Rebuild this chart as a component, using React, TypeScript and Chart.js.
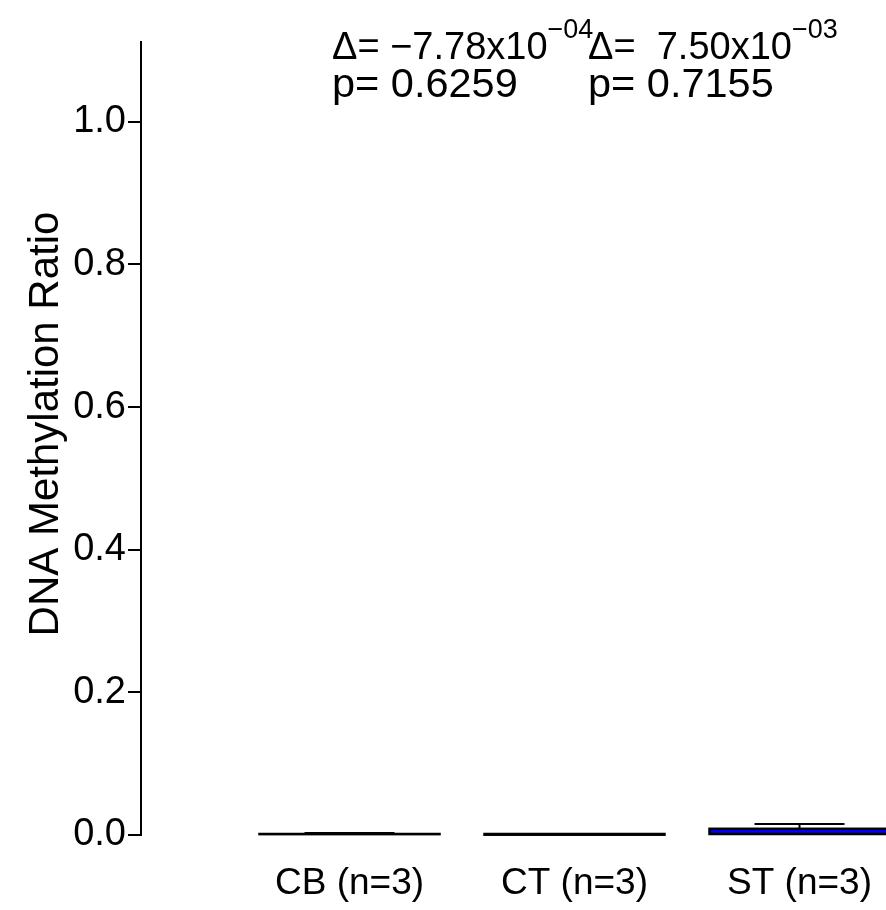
import React, { useEffect, useRef } from "react";
import { Chart, registerables } from "chart.js";

Chart.register(...registerables);

// ---- data ----
const categories = ["CB (n=3)", "CT (n=3)", "ST (n=3)"];
const positions = [1, 2, 3];
const means = [0.0012, 0.0004, 0.0087];
const errors = [0.0016, 0.0008, 0.0068];
const barColors = ["#ffffff", "#ffffff", "#0000ff"];
const yTicks = [0, 0.2, 0.4, 0.6, 0.8, 1.0];
const deltaMantissa = ["\u22127.78", " 7.50"];
const deltaExponent = ["\u221204", "\u221203"];
const pValues = ["0.6259", "0.7155"];
const yTitle = "DNA Methylation Ratio";

const FONT = "'Liberation Sans', Arial, Helvetica, sans-serif";

const overlayPlugin = {
  id: "overlay",
  afterDatasetsDraw(chart: any) {
    const ctx = chart.ctx;
    const xs = chart.scales.x;
    const ys = chart.scales.y;
    const meta = chart.getDatasetMeta(0);
    ctx.save();
    ctx.strokeStyle = "#000";
    ctx.lineWidth = 2.5;
    meta.data.forEach((bar: any) => {
      const { x, y, base, width } = bar.getProps(["x", "y", "base", "width"], true);
      ctx.strokeRect(x - width / 2, y, width, base - y);
    });
    ctx.lineWidth = 2;
    positions.forEach((p, i) => {
      const cx = xs.getPixelForValue(p);
      const y0 = ys.getPixelForValue(means[i]);
      const y1 = ys.getPixelForValue(means[i] + errors[i]);
      const hw = xs.getPixelForValue(p + 0.2) - cx;
      ctx.beginPath();
      ctx.moveTo(cx, y0);
      ctx.lineTo(cx, y1);
      ctx.moveTo(cx - hw, y1);
      ctx.lineTo(cx + hw, y1);
      ctx.stroke();
    });
    ctx.restore();
  },
  afterDraw(chart: any) {
    const ctx = chart.ctx;
    const area = chart.chartArea;
    ctx.save();
    ctx.fillStyle = "#000";
    // y axis title
    ctx.save();
    ctx.translate(58, 424);
    ctx.rotate(-Math.PI / 2);
    ctx.font = `42px ${FONT}`;
    ctx.textAlign = "center";
    ctx.textBaseline = "alphabetic";
    ctx.fillText(yTitle, 0, 0);
    ctx.restore();
    // annotations
    const starts = [area.left + 191, area.left + 447];
    ctx.textAlign = "left";
    ctx.textBaseline = "alphabetic";
    starts.forEach((sx, i) => {
      ctx.font = `38px ${FONT}`;
      const main = "\u0394= " + deltaMantissa[i] + "x10";
      ctx.fillText(main, sx, 59);
      const w = ctx.measureText(main).width;
      ctx.font = `27px ${FONT}`;
      ctx.fillText(deltaExponent[i], sx + w, 38);
      ctx.font = `41.5px ${FONT}`;
      ctx.fillText("p= " + pValues[i], sx, 97);
    });
    ctx.restore();
  },
};

export default function App() {
  const canvasRef = useRef<HTMLCanvasElement | null>(null);

  useEffect(() => {
    const canvas = canvasRef.current;
    if (!canvas) return;
    const chart = new Chart(canvas, {
      type: "bar",
      data: {
        datasets: [
          {
            data: positions.map((p, i) => ({ x: p, y: means[i] })),
            backgroundColor: barColors,
            borderWidth: 0,
            barPercentage: 0.8,
            categoryPercentage: 1,
          },
        ],
      },
      plugins: [overlayPlugin],
      options: {
        responsive: false,
        animation: false,
        devicePixelRatio: 1,
        layout: { autoPadding: false, padding: { top: 42, left: 0, right: 0, bottom: 0 } },
        plugins: {
          legend: { display: false },
          tooltip: { enabled: false },
          title: { display: false },
        },
        scales: {
          x: {
            type: "linear",
            min: 0.0733,
            max: 3.3844,
            bounds: "data",
            offset: false,
            grid: { display: false, drawTicks: false },
            border: { display: false },
            afterBuildTicks: (scale: any) => {
              scale.ticks = positions.map((v) => ({ value: v }));
            },
            afterFit: (scale: any) => {
              scale.height = 75;
              scale.paddingLeft = 0;
              scale.paddingRight = 0;
            },
            ticks: {
              autoSkip: false,
              maxRotation: 0,
              padding: 0,
              color: "#000",
              font: { family: FONT, size: 37, lineHeight: 97 / 37 },
              callback: (v: any) => categories[positions.indexOf(Number(v))] ?? "",
            },
          },
          y: {
            type: "linear",
            min: 0,
            max: 1.112,
            afterBuildTicks: (scale: any) => {
              scale.ticks = yTicks.map((v) => ({ value: v }));
            },
            afterFit: (scale: any) => {
              scale.width = 141;
            },
            grid: {
              display: true,
              drawOnChartArea: false,
              drawTicks: true,
              tickLength: 13,
              color: "#000",
              lineWidth: 2,
            },
            border: { display: true, color: "#000", width: 2 },
            ticks: {
              padding: 2,
              color: "#000",
              font: { family: FONT, size: 38 },
              callback: (v: any) => Number(v).toFixed(1),
            },
          },
        },
      },
    });
    return () => chart.destroy();
  }, []);

  return (
    <div style={{ position: "fixed", left: 0, top: 0, width: 886, height: 910, background: "#fff", overflow: "hidden" }}>
      <canvas ref={canvasRef} width={886} height={910} style={{ display: "block" }} />
    </div>
  );
}
